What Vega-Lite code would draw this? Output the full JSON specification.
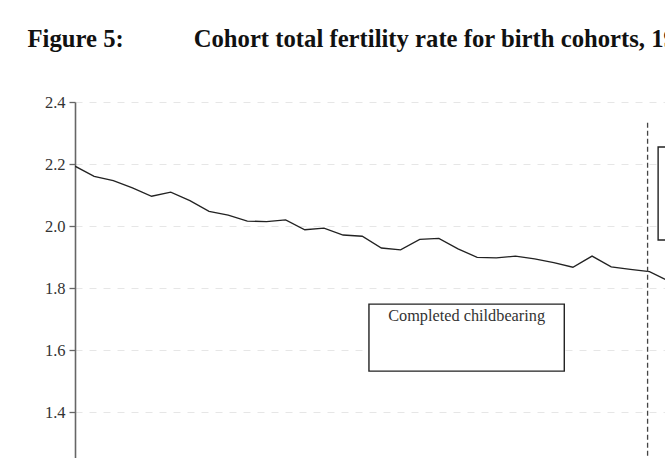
{
  "$schema": "https://vega.github.io/schema/vega-lite/v6.json",
  "autosize": "none",
  "padding": {"left": 75, "top": 102, "right": 0, "bottom": 0},
  "width": 766,
  "height": 434,
  "background": "white",
  "title": {
    "text": "Figure 5:\u00a0\u00a0\u00a0\u00a0\u00a0\u00a0\u00a0\u00a0\u00a0\u00a0\u00a0\u200aCohort total fertility rate for birth cohorts, 1935\u20131975",
    "anchor": "start",
    "frame": "group",
    "font": "Liberation Serif",
    "fontSize": 24.7,
    "fontWeight": "bold",
    "color": "#111111",
    "baseline": "alphabetic",
    "dx": -47.5,
    "offset": 22
  },
  "datasets": {
    "cohorts": [
      {"year": 1935, "tfr": 2.193},
      {"year": 1936, "tfr": 2.160},
      {"year": 1937, "tfr": 2.146},
      {"year": 1938, "tfr": 2.123},
      {"year": 1939, "tfr": 2.096},
      {"year": 1940, "tfr": 2.109},
      {"year": 1941, "tfr": 2.082},
      {"year": 1942, "tfr": 2.047},
      {"year": 1943, "tfr": 2.035},
      {"year": 1944, "tfr": 2.016},
      {"year": 1945, "tfr": 2.014},
      {"year": 1946, "tfr": 2.020},
      {"year": 1947, "tfr": 1.988},
      {"year": 1948, "tfr": 1.993},
      {"year": 1949, "tfr": 1.971},
      {"year": 1950, "tfr": 1.967},
      {"year": 1951, "tfr": 1.929},
      {"year": 1952, "tfr": 1.923},
      {"year": 1953, "tfr": 1.957},
      {"year": 1954, "tfr": 1.960},
      {"year": 1955, "tfr": 1.926},
      {"year": 1956, "tfr": 1.899},
      {"year": 1957, "tfr": 1.897},
      {"year": 1958, "tfr": 1.903},
      {"year": 1959, "tfr": 1.894},
      {"year": 1960, "tfr": 1.882},
      {"year": 1961, "tfr": 1.867},
      {"year": 1962, "tfr": 1.903},
      {"year": 1963, "tfr": 1.868},
      {"year": 1964, "tfr": 1.860},
      {"year": 1965, "tfr": 1.853},
      {"year": 1966, "tfr": 1.822}
    ],
    "phases": [
      {"label": "Completed childbearing", "from": 1950.35, "to": 1960.55, "top": 1.748, "bottom": 1.532},
      {"label": "Incomplete childbearing", "from": 1965.45, "to": 1975.6, "top": 2.255, "bottom": 1.955}
    ],
    "cutoff": [
      {"year": 1964.9, "top": 2.333, "bottom": 1.0}
    ]
  },
  "config": {
    "view": {"stroke": null},
    "axis": {
      "grid": true,
      "gridColor": "#e6e6e6",
      "gridDash": [7, 7],
      "gridWidth": 1,
      "domainColor": "#666666",
      "domainWidth": 1.6,
      "tickColor": "#666666",
      "tickWidth": 1.3,
      "tickSize": 6,
      "labelFont": "Liberation Serif",
      "labelFontSize": 16.5,
      "labelColor": "#333333",
      "labelPadding": 4,
      "title": null
    }
  },
  "layer": [
    {
      "data": {"name": "cohorts"},
      "mark": {"type": "line", "color": "#222222", "strokeWidth": 1.3, "clip": true},
      "encoding": {
        "x": {
          "field": "year",
          "type": "quantitative",
          "scale": {"domain": [1935, 1975], "nice": false, "zero": false},
          "axis": null
        },
        "y": {
          "field": "tfr",
          "type": "quantitative",
          "scale": {"domain": [1.0, 2.4], "nice": false, "zero": false},
          "axis": {"values": [1.4, 1.6, 1.8, 2.0, 2.2, 2.4], "format": ".1f"}
        }
      }
    },
    {
      "data": {"name": "cutoff"},
      "mark": {"type": "rule", "color": "#444444", "strokeWidth": 1.3, "strokeDash": [5, 3]},
      "encoding": {
        "x": {"field": "year", "type": "quantitative"},
        "y": {"field": "top", "type": "quantitative"},
        "y2": {"field": "bottom"}
      }
    },
    {
      "data": {"name": "phases"},
      "mark": {"type": "rect", "fill": "white", "stroke": "#222222", "strokeWidth": 1.4},
      "encoding": {
        "x": {"field": "from", "type": "quantitative"},
        "x2": {"field": "to"},
        "y": {"field": "top", "type": "quantitative"},
        "y2": {"field": "bottom"}
      }
    },
    {
      "data": {"name": "phases"},
      "transform": [{"calculate": "(datum.from + datum.to) / 2", "as": "mid"}],
      "mark": {"type": "text", "font": "Liberation Serif", "fontSize": 16.3, "color": "#333333", "baseline": "top", "align": "center", "dy": 4},
      "encoding": {
        "x": {"field": "mid", "type": "quantitative"},
        "y": {"field": "top", "type": "quantitative"},
        "text": {"field": "label"}
      }
    }
  ]
}
